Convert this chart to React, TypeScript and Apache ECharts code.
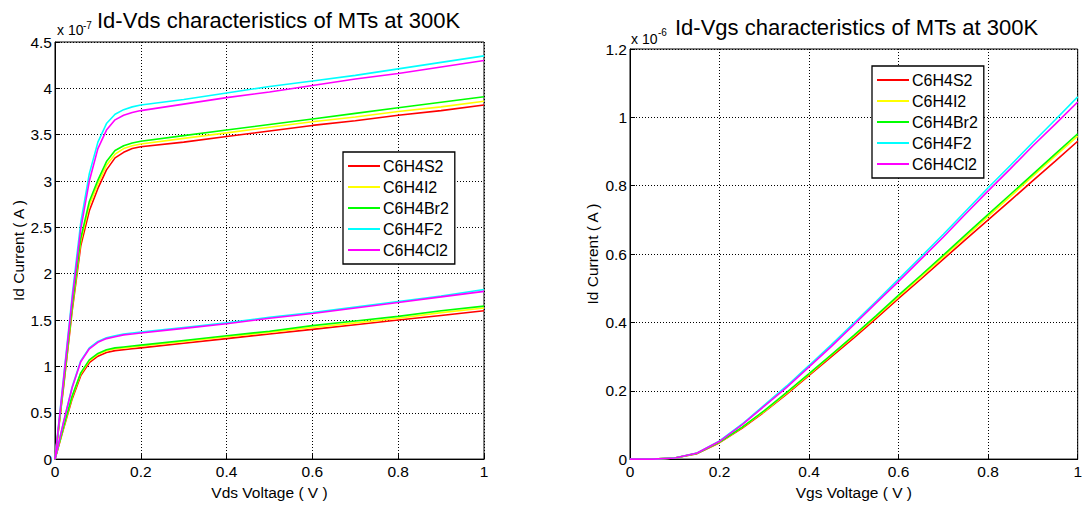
import React, { useEffect, useRef } from "react";
import * as echarts from "echarts";

// ---------- data (currents in units of the axis exponent) ----------
const materials = ["C6H4S2", "C6H4I2", "C6H4Br2", "C6H4F2", "C6H4Cl2"];
const colors = ["#ff0000", "#ffff00", "#00ff00", "#00ffff", "#ff00ff"];

// Id-Vds (x 1e-7 A)
const vds = [0, 0.02, 0.04, 0.06, 0.08, 0.1, 0.12, 0.14, 0.16, 0.18, 0.2, 0.3, 0.4, 0.5, 0.6, 0.7, 0.8, 0.9, 1.0];
const idsHighS2 = [0, 0.78, 1.6, 2.3, 2.68, 2.92, 3.12, 3.25, 3.31, 3.35, 3.37, 3.42, 3.48, 3.54, 3.6, 3.65, 3.71, 3.76, 3.82];
const idsHighI2 = [0, 0.8, 1.63, 2.35, 2.74, 2.97, 3.17, 3.29, 3.35, 3.38, 3.4, 3.46, 3.52, 3.58, 3.64, 3.69, 3.75, 3.8, 3.86];
const idsHighBr2 = [0, 0.81, 1.65, 2.38, 2.78, 3.01, 3.21, 3.33, 3.38, 3.41, 3.43, 3.49, 3.55, 3.61, 3.67, 3.73, 3.79, 3.85, 3.91];
const idsHighF2 = [0, 0.88, 1.76, 2.55, 3.08, 3.42, 3.62, 3.72, 3.77, 3.8, 3.82, 3.88, 3.95, 4.02, 4.08, 4.14, 4.21, 4.28, 4.35];
const idsHighCl2 = [0, 0.86, 1.72, 2.48, 3.0, 3.35, 3.55, 3.66, 3.71, 3.74, 3.76, 3.83, 3.9, 3.96, 4.03, 4.1, 4.16, 4.23, 4.3];

const idsLowS2 = [0, 0.33, 0.65, 0.9, 1.04, 1.11, 1.15, 1.17, 1.18, 1.19, 1.2, 1.25, 1.3, 1.35, 1.4, 1.45, 1.5, 1.55, 1.6];
const idsLowI2 = [0, 0.34, 0.67, 0.92, 1.06, 1.13, 1.17, 1.19, 1.2, 1.21, 1.22, 1.27, 1.32, 1.37, 1.42, 1.47, 1.52, 1.58, 1.63];
const idsLowBr2 = [0, 0.35, 0.68, 0.93, 1.07, 1.14, 1.18, 1.2, 1.21, 1.22, 1.23, 1.28, 1.33, 1.38, 1.44, 1.49, 1.54, 1.6, 1.65];
const idsLowF2 = [0, 0.4, 0.78, 1.06, 1.2, 1.27, 1.31, 1.33, 1.35, 1.36, 1.37, 1.42, 1.47, 1.53, 1.58, 1.64, 1.7, 1.76, 1.83];
const idsLowCl2 = [0, 0.4, 0.77, 1.05, 1.19, 1.26, 1.3, 1.32, 1.34, 1.35, 1.36, 1.41, 1.46, 1.52, 1.57, 1.63, 1.69, 1.75, 1.81];

// Id-Vgs (x 1e-6 A)
const vgs = [0, 0.05, 0.1, 0.15, 0.2, 0.25, 0.3, 0.35, 0.4, 0.45, 0.5, 0.55, 0.6, 0.65, 0.7, 0.75, 0.8, 0.85, 0.9, 0.95, 1.0];
const idgS2 = [0, 0, 0.003, 0.016, 0.048, 0.09, 0.138, 0.19, 0.245, 0.3, 0.355, 0.412, 0.47, 0.527, 0.585, 0.643, 0.7, 0.757, 0.815, 0.872, 0.93];
const idgI2 = [0, 0, 0.003, 0.017, 0.049, 0.092, 0.14, 0.193, 0.248, 0.304, 0.36, 0.417, 0.476, 0.534, 0.592, 0.651, 0.71, 0.769, 0.828, 0.887, 0.945];
const idgBr2 = [0, 0, 0.003, 0.017, 0.05, 0.093, 0.142, 0.195, 0.25, 0.306, 0.362, 0.42, 0.48, 0.538, 0.597, 0.657, 0.716, 0.775, 0.834, 0.893, 0.952];
const idgF2 = [0, 0, 0.003, 0.018, 0.053, 0.102, 0.158, 0.214, 0.274, 0.335, 0.398, 0.462, 0.527, 0.592, 0.658, 0.726, 0.794, 0.86, 0.927, 0.993, 1.06];
const idgCl2 = [0, 0, 0.003, 0.018, 0.052, 0.1, 0.155, 0.21, 0.27, 0.33, 0.393, 0.457, 0.52, 0.585, 0.65, 0.718, 0.785, 0.85, 0.917, 0.98, 1.045];

const vdsHigh = [idsHighS2, idsHighI2, idsHighBr2, idsHighF2, idsHighCl2];
const vdsLow = [idsLowS2, idsLowI2, idsLowBr2, idsLowF2, idsLowCl2];
const vgsCurves = [idgS2, idgI2, idgBr2, idgF2, idgCl2];

const FONT = '"Liberation Sans", Arial, Helvetica, sans-serif';

const pair = (xs: number[], ys: number[]) => xs.map((x, i) => [x, ys[i]]);

function makeAxis(gridIndex: number, name: string, nameGap: number, isY: boolean, max: number) {
  return {
    type: "value",
    gridIndex,
    min: 0,
    max,
    interval: isY && max > 2 ? 0.5 : 0.2,
    name,
    nameLocation: "middle",
    nameGap,
    nameTextStyle: { color: "#000", fontSize: 15.5, fontFamily: FONT },
    axisLine: { show: true, onZero: false, lineStyle: { color: "#000", width: 1 } },
    axisTick: { show: true, inside: true, length: 5, lineStyle: { color: "#000" } },
    axisLabel: {
      color: "#000",
      fontSize: 15.5,
      fontFamily: FONT,
      margin: isY ? 3 : 4,
      formatter: (v: number) => String(Math.round(v * 10) / 10),
    },
    splitLine: { show: true, lineStyle: { color: "#000", width: 1, type: [1, 2] } },
  };
}

export default function App() {
  const ref = useRef<HTMLDivElement>(null);
  useEffect(() => {
    if (!ref.current) return;
    const chart = echarts.init(ref.current, null, { renderer: "svg" });
    const series: any[] = [];
    materials.forEach((m, i) => {
      series.push({
        name: m, type: "line", xAxisIndex: 0, yAxisIndex: 0, symbol: "none",
        lineStyle: { color: colors[i], width: 1.6 }, itemStyle: { color: colors[i] },
        data: pair(vds, vdsHigh[i]), z: 2 + i,
      });
      series.push({
        name: m, type: "line", xAxisIndex: 0, yAxisIndex: 0, symbol: "none",
        lineStyle: { color: colors[i], width: 1.6 }, itemStyle: { color: colors[i] },
        data: pair(vds, vdsLow[i]), z: 2 + i,
      });
      series.push({
        name: m, type: "line", xAxisIndex: 1, yAxisIndex: 1, symbol: "none",
        lineStyle: { color: colors[i], width: 1.6 }, itemStyle: { color: colors[i] },
        data: pair(vgs, vgsCurves[i]), z: 2 + i,
      });
    });
    const legendBase = {
      orient: "vertical",
      backgroundColor: "#fff",
      borderColor: "#000",
      borderWidth: 1.3,
      borderRadius: 0,
      icon: "rect",
      itemWidth: 32,
      itemHeight: 2,
      itemGap: 5,
      padding: [6, 6, 6, 5],
      textStyle: { color: "#000", fontSize: 16, fontFamily: FONT, padding: [0, 0, 0, -2] },
      data: materials,
      z: 10,
    };
    chart.setOption({
      animation: false,
      backgroundColor: "#fff",
      grid: [
        { left: 55, top: 42, width: 429, height: 421, show: true, borderColor: "#000", borderWidth: 1, backgroundColor: "transparent" },
        { left: 630, top: 49, width: 452, height: 414, show: true, borderColor: "#000", borderWidth: 1, backgroundColor: "transparent" },
      ],
      xAxis: [makeAxis(0, "Vds Voltage ( V )", 24, false, 1), makeAxis(1, "Vgs Voltage ( V )", 24, false, 1)],
      yAxis: [makeAxis(0, "Id Current ( A )", 27, true, 4.5), makeAxis(1, "Id Current ( A )", 30, true, 1.2)],
      legend: [
        { ...legendBase, left: 343, top: 152 },
        { ...legendBase, left: 872, top: 66 },
      ],
      series,
      graphic: [
        { type: "text", x: 97, y: 20, style: { text: "Id-Vds characteristics of MTs at 300K", fill: "#000", font: `22px ${FONT}`, textVerticalAlign: "middle" } },
        { type: "text", x: 675, y: 27, style: { text: "Id-Vgs characteristics of MTs at 300K", fill: "#000", font: `22px ${FONT}`, textVerticalAlign: "middle" } },
        { type: "text", x: 57, y: 37, style: { text: "x 10", fill: "#000", font: `14px ${FONT}`, textVerticalAlign: "bottom" } },
        { type: "text", x: 83, y: 30, style: { text: "-7", fill: "#000", font: `10px ${FONT}`, textVerticalAlign: "bottom" } },
        { type: "text", x: 631, y: 46, style: { text: "x 10", fill: "#000", font: `14px ${FONT}`, textVerticalAlign: "bottom" } },
        { type: "text", x: 658, y: 37, style: { text: "-6", fill: "#000", font: `10px ${FONT}`, textVerticalAlign: "bottom" } },
      ],
    });
    return () => chart.dispose();
  }, []);
  return <div ref={ref} style={{ position: "fixed", left: 0, top: 0, width: 1085, height: 505 }} />;
}
